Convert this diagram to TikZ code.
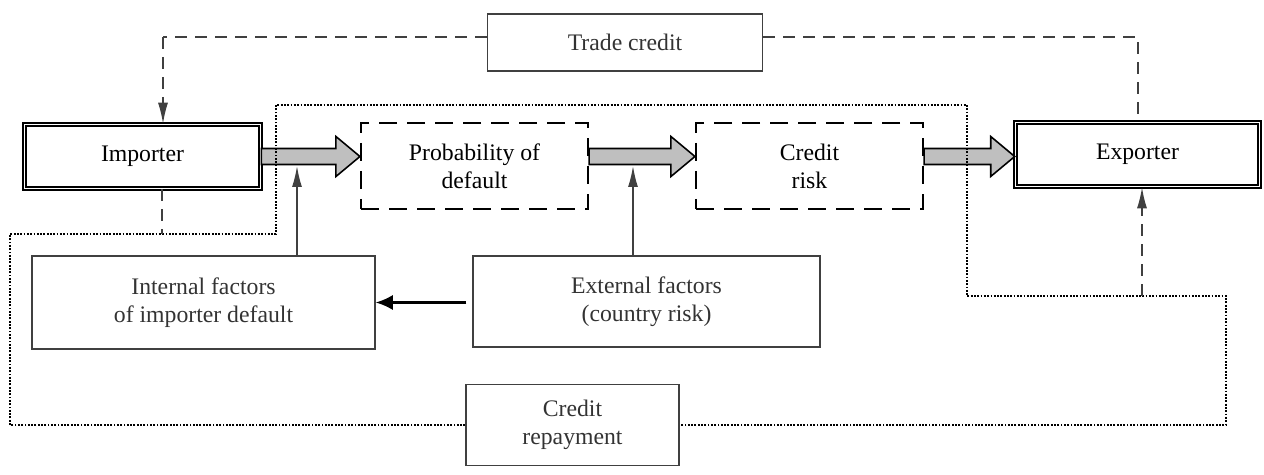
\documentclass[tikz,border=0pt]{standalone}
\usepackage{fontspec}
\setmainfont{Liberation Serif}
\usetikzlibrary{arrows.meta}
\usetikzlibrary{calc}
\usepackage{xcolor}
\colorlet{mygray}{black!75}
\colorlet{myfill}{black!25}
\tikzset{
  >=latex,
  box/.style={draw=mygray,line width=0.85pt,inner sep=1,align=center,text=black!80,
    font=\fontsize{13.5}{16}\selectfont},
  box double/.style={box,draw=black,double=white,line width=0.9pt,double distance=1.1pt,
    minimum width=4.72cm,minimum height=1.28cm,text=black},
  box dashed/.style={box,draw=black,line width=1.2pt,dash pattern=on 0.36cm off 0.2cm,
    minimum width=4.54cm,minimum height=1.72cm,text=black},
  connect arrow/.style={-{Latex[length=0.42cm,width=0.2cm]},line width=0.85pt,mygray},
  connect black/.style={-{Latex[length=0.34cm,width=0.3cm]},line width=1.2pt,black},
  connect dashed/.style={line width=0.85pt,mygray,dash pattern=on 0.24cm off 0.16cm},
  connect dotted/.style={line width=1.15pt,black,dash pattern=on 0.036cm off 0.03cm},
  fat arrow/.style={draw=black,fill=myfill,line width=0.9pt,line join=miter}
}
% wide grey arrow between two points at the same height
\newcommand{\fatarrow}[2]{%
  \draw[fat arrow] let \p1=(#1), \p2=(#2) in
    (\x1,\y1+0.16cm) -- (\x2-0.48cm,\y1+0.16cm) -- (\x2-0.48cm,\y1+0.4cm) -- (\x2,\y1)
    -- (\x2-0.48cm,\y1-0.4cm) -- (\x2-0.48cm,\y1-0.16cm) -- (\x1,\y1-0.16cm) -- cycle;}

\begin{document}
\begin{tikzpicture}
    \useasboundingbox (0,0) rectangle (25.28,9.5);
    % main chain
    \node[box double] (imp) at (2.85,6.37) {Importer};
    \node[box dashed] (pd) at (9.49,6.18) {Probability of\\default};
    \node[box dashed] (cr) at (16.19,6.18) {Credit\\risk};
    \node[box double,minimum width=4.88cm] (ex) at (22.75,6.41) {Exporter};
    % factors
    \node[box,minimum width=6.86cm,minimum height=1.86cm] (inf) at (4.07,3.45) {Internal factors\\of importer default};
    \node[box,minimum width=6.94cm,minimum height=1.82cm] (exf) at (12.93,3.47) {External factors\\(country risk)};
    % flows
    \node[box,minimum width=5.5cm,minimum height=1.14cm] (tc) at (12.5,8.65) {Trade credit};
    \node[box,minimum width=4.26cm,minimum height=1.62cm] (rep) at (11.45,1.0) {Credit\\repayment};

    \fatarrow{imp.east}{pd.west |- imp.east}
    \fatarrow{pd.east |- imp.east}{cr.west |- imp.east}
    \fatarrow{cr.east |- imp.east}{ex.west |- imp.east}

    \coordinate (f1) at (5.94,6.18);
    \coordinate (f2) at (12.66,6.18);
    \draw[connect arrow] (inf.north -| f1) -- (f1);
    \draw[connect arrow] (exf.north -| f2) -- (f2);
    \draw[connect black,shorten <=0.12cm] (exf.west |- inf.east) -- (inf.east);

    % trade credit (dashed)
    \coordinate (tl) at (3.26,8.76);
    \coordinate (tr) at (22.76,8.76);
    \draw[connect dashed] (tc.west |- tl) -- (tl);
    \draw[connect dashed,-{Latex[length=0.42cm,width=0.2cm]}] (tl) -- (tl |- imp.north);
    \draw[connect dashed] (tc.east |- tr) -- (tr) -- (tr |- ex.north);

    % repayment loop (dotted)
    \coordinate (dl) at (3.24,4.82);
    \coordinate (dr) at (22.84,3.58);
    \draw[connect dotted] (rep.west) -- (0.2,1.0) -- (0.2,4.82) -- (5.52,4.82) -- (5.52,7.4)
        -- (19.34,7.4) -- (19.34,3.58) -- (24.52,3.58) -- (24.52,1.0) -- (rep.east);
    \draw[connect dashed] (dl |- imp.south) -- (dl);
    \draw[connect dashed,-{Latex[length=0.42cm,width=0.2cm]}] (dr) -- (dr |- ex.south);
\end{tikzpicture}
\end{document}
